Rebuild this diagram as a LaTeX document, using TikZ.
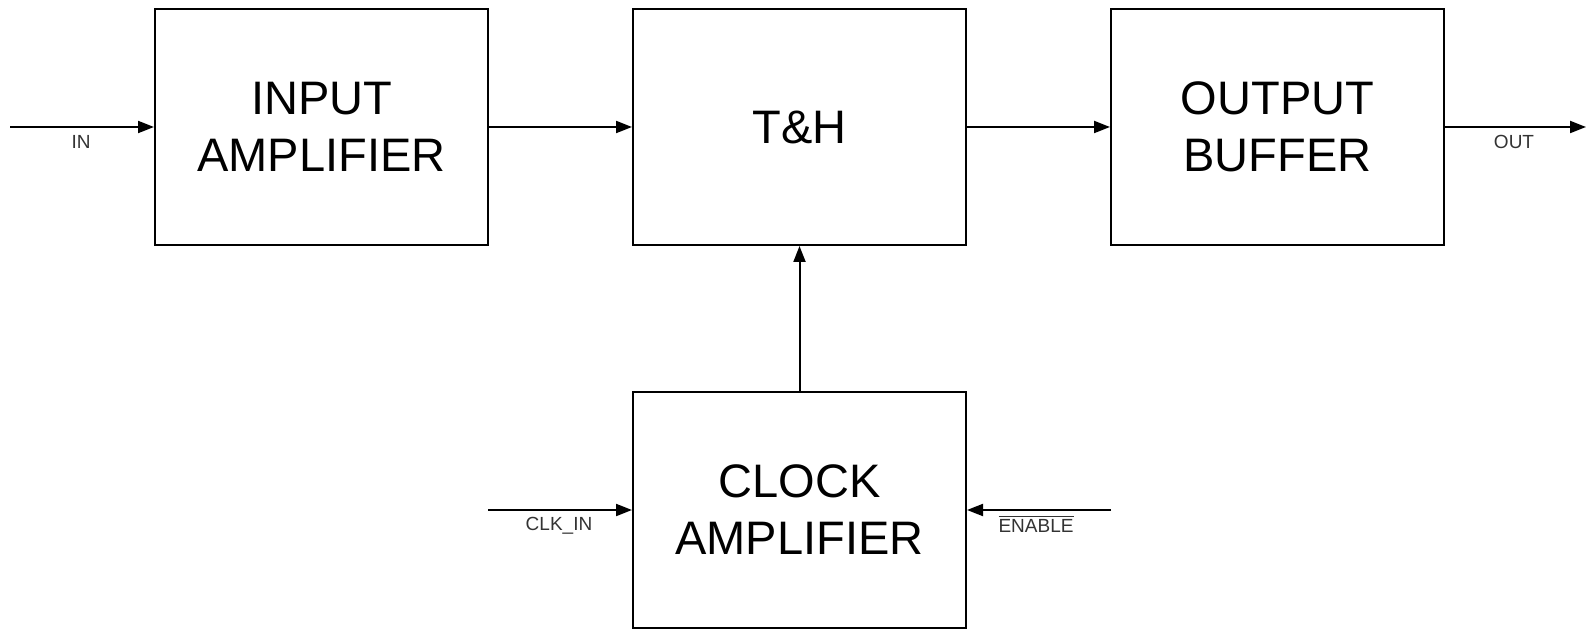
\documentclass[tikz,border=0pt]{standalone}
\usepackage{fontspec}
\setmainfont{Liberation Sans}
\usetikzlibrary{arrows.meta}

\tikzset{
    block/.style={draw, line width=1pt, minimum width=166.5pt, minimum height=118pt,
        align=center, font=\fontsize{23.5}{28.5}\selectfont, inner sep=0pt},
    sig/.style={font=\fontsize{9.5}{11}\selectfont, text=black!80},
    wire/.style={line width=1pt, -{Triangle[length=8pt,width=6pt]}}
}

\begin{document}
\begin{tikzpicture}[x=0.5pt,y=-0.5pt]

\useasboundingbox (0,0) rectangle (1588,630);

% blocks
\node[block] (inamp)  at (321.5,127)  {INPUT\\AMPLIFIER};
\node[block] (th)     at (799.5,127)  {T\&H};
\node[block] (outbuf) at (1277.5,127) {OUTPUT\\BUFFER};
\node[block] (clkamp) at (799.5,509.5) {CLOCK\\AMPLIFIER};

% free ends
\coordinate (in)     at (10,127);
\coordinate (out)    at (1586,127);
\coordinate (clkin)  at (488,510);
\coordinate (enable) at (1111,510);

% signal path
\draw[wire] (in) -- (inamp);
\draw[wire] (inamp) -- (th);
\draw[wire] (th) -- (outbuf);
\draw[wire] (outbuf) -- (out);

% clock path
\draw[wire] (clkamp) -- (th);
\draw[wire] (clkin) -- (clkin -| clkamp.west);
\draw[wire] (enable) -- (enable -| clkamp.east);

% labels
\node[sig] (inlbl)     at (81,142)   {IN};
\node[sig] (outlbl)    at (1514,142) {OUT};
\node[sig] (clkinlbl)  at (559,526)  {CLK\_IN};
\node[sig] (enablelbl) at (1036,524) {$\overline{\mbox{ENABLE}}$};

\end{tikzpicture}
\end{document}
